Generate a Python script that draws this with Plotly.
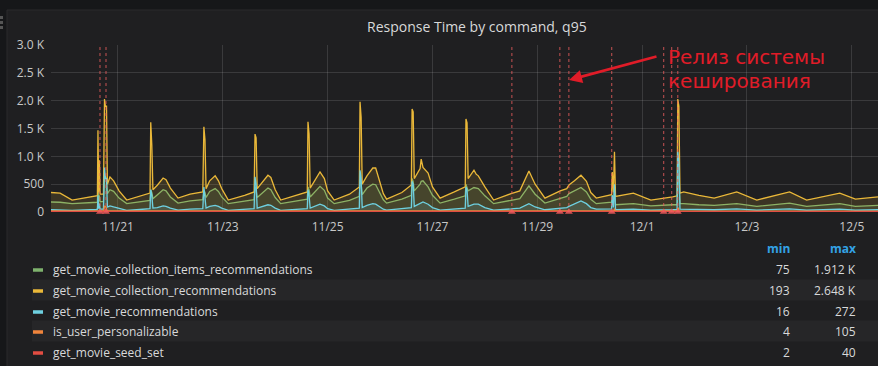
import plotly.graph_objects as go
import pandas as pd

# ---------------- data ----------------
series_names = [
    "get_movie_collection_items_recommendations",
    "get_movie_collection_recommendations",
    "get_movie_recommendations",
    "is_user_personalizable",
    "get_movie_seed_set",
]
series_colors = ["#7eb26d", "#eab839", "#6ed0e0", "#ef843c", "#e24d42"]
legend_min = ["75", "193", "16", "4", "2"]
legend_max = ["1.912 K", "2.648 K", "272", "105", "40"]

t_main = [
    # 11/19 - 11/20
    "2018-11-19 17:20", "2018-11-19 21:30", "2018-11-20 03:00", "2018-11-20 14:00", "2018-11-20 14:35",
    "2018-11-20 14:50", "2018-11-20 15:10", "2018-11-20 15:30", "2018-11-20 15:50", "2018-11-20 17:20",
    "2018-11-20 17:50", "2018-11-20 18:15", "2018-11-20 18:45", "2018-11-20 19:10", "2018-11-20 20:20",
    "2018-11-20 22:00", "2018-11-21 00:30",
    # 11/21
    "2018-11-21 04:00", "2018-11-21 10:00", "2018-11-21 14:40", "2018-11-21 15:00", "2018-11-21 15:30",
    "2018-11-21 16:00", "2018-11-21 18:00", "2018-11-21 20:40", "2018-11-21 22:00", "2018-11-22 00:00",
    # 11/22
    "2018-11-22 03:30", "2018-11-22 09:00", "2018-11-22 14:50", "2018-11-22 15:20", "2018-11-22 15:50",
    "2018-11-22 16:20", "2018-11-22 18:00", "2018-11-22 20:30", "2018-11-22 22:00", "2018-11-22 23:30",
    # 11/23
    "2018-11-23 02:30", "2018-11-23 10:00", "2018-11-23 14:20", "2018-11-23 14:45", "2018-11-23 15:15",
    "2018-11-23 15:45", "2018-11-23 18:30", "2018-11-23 20:40", "2018-11-23 22:00", "2018-11-24 00:00",
    # 11/24
    "2018-11-24 02:30", "2018-11-24 10:00", "2018-11-24 14:40", "2018-11-24 15:00", "2018-11-24 15:30",
    "2018-11-24 16:00", "2018-11-24 18:00", "2018-11-24 20:30", "2018-11-24 22:30", "2018-11-25 00:00",
    # 11/25
    "2018-11-25 03:00", "2018-11-25 10:00", "2018-11-25 14:30", "2018-11-25 14:50", "2018-11-25 15:20",
    "2018-11-25 15:50", "2018-11-25 18:00", "2018-11-25 20:40", "2018-11-25 22:00", "2018-11-26 00:00",
    "2018-11-26 01:30",
    # 11/26
    "2018-11-26 03:00", "2018-11-26 10:00", "2018-11-26 14:20", "2018-11-26 14:40", "2018-11-26 15:10",
    "2018-11-26 15:40", "2018-11-26 18:20", "2018-11-26 18:50", "2018-11-26 19:40", "2018-11-26 22:00",
    "2018-11-27 00:00",
    # 11/27
    "2018-11-27 03:30", "2018-11-27 10:00", "2018-11-27 15:00", "2018-11-27 15:20", "2018-11-27 15:50",
    "2018-11-27 16:20", "2018-11-27 19:00", "2018-11-27 20:00", "2018-11-27 21:00", "2018-11-28 00:00",
    # 11/28
    "2018-11-28 04:00", "2018-11-28 12:00", "2018-11-28 16:00", "2018-11-28 20:10", "2018-11-28 23:00",
    # 11/29
    "2018-11-29 03:30", "2018-11-29 10:30", "2018-11-29 13:30", "2018-11-29 14:30", "2018-11-29 17:00",
    "2018-11-29 20:00", "2018-11-29 22:30", "2018-11-30 00:30",
    # 11/30
    "2018-11-30 03:00", "2018-11-30 09:00", "2018-11-30 10:00", "2018-11-30 10:20", "2018-11-30 10:50",
    "2018-11-30 11:20", "2018-11-30 11:50", "2018-11-30 20:00",
    # 12/1
    "2018-12-01 04:00", "2018-12-01 14:00", "2018-12-01 16:00", "2018-12-01 16:20", "2018-12-01 16:50",
    "2018-12-01 17:20", "2018-12-01 19:00",
    # 12/2 - 12/5
    "2018-12-02 02:00", "2018-12-02 09:00", "2018-12-02 19:20", "2018-12-03 04:30", "2018-12-03 19:30",
    "2018-12-04 03:20", "2018-12-04 18:30", "2018-12-05 01:40", "2018-12-05 12:00",
]

v_collection = [  # yellow
    350, 340, 215, 290, 295, 1470, 350, 930, 320, 320, 2030, 1900, 1900, 500, 630, 560, 380,
    215, 280, 340, 1610, 1200, 400, 480, 610, 580, 430,
    250, 320, 360, 1530, 1300, 420, 560, 650, 560, 420,
    215, 300, 360, 1400, 1330, 420, 560, 660, 620, 400,
    215, 300, 360, 1620, 1400, 430, 550, 720, 600, 380,
    215, 320, 450, 1980, 1700, 500, 650, 790, 790, 520, 330,
    230, 350, 485, 1850, 1800, 600, 780, 950, 800, 700, 450,
    250, 360, 450, 1670, 1600, 600, 750, 680, 650, 450,
    215, 330, 380, 735, 500,
    250, 380, 420, 485, 560, 660, 550, 350,
    250, 300, 310, 720, 350, 1080, 280, 340,
    215, 270, 290, 2030, 1900, 340, 360,
    300, 250, 360, 215, 360, 215, 340, 230, 270,
]

v_items = [  # green
    180, 175, 150, 170, 175, 500, 190, 300, 185, 190, 700, 650, 600, 330, 400, 370, 250,
    150, 180, 210, 400, 350, 240, 310, 400, 380, 270,
    160, 200, 220, 400, 350, 260, 370, 420, 370, 270,
    150, 190, 220, 450, 400, 260, 360, 430, 400, 260,
    150, 200, 230, 450, 400, 270, 360, 460, 390, 250,
    150, 210, 280, 600, 500, 310, 430, 500, 490, 340, 220,
    160, 230, 300, 600, 550, 380, 500, 550, 560, 450, 300,
    160, 230, 290, 500, 450, 380, 440, 430, 420, 290,
    150, 210, 240, 470, 320,
    160, 250, 280, 330, 380, 440, 360, 230,
    150, 170, 175, 300, 180, 400, 130, 150,
    110, 130, 130, 700, 600, 150, 150,
    130, 120, 150, 100, 160, 100, 150, 100, 120,
]

v_movie = [  # blue
    40, 40, 30, 45, 50, 300, 60, 150, 50, 50, 800, 600, 600, 90, 110, 90, 60,
    30, 45, 60, 400, 300, 70, 80, 110, 100, 70,
    35, 50, 60, 450, 300, 70, 100, 120, 100, 70,
    30, 45, 60, 630, 500, 70, 100, 130, 120, 70,
    30, 45, 60, 400, 300, 70, 100, 140, 110, 60,
    30, 50, 70, 750, 600, 80, 120, 150, 140, 90, 50,
    35, 55, 80, 550, 500, 100, 150, 170, 180, 140, 80,
    35, 55, 70, 450, 400, 100, 140, 140, 140, 80,
    35, 55, 70, 150, 90,
    40, 60, 80, 100, 150, 200, 150, 80,
    50, 50, 55, 300, 80, 500, 40, 50,
    35, 40, 45, 1080, 900, 50, 50,
    45, 40, 55, 35, 55, 35, 50, 35, 40,
]

t_pers = ["2018-11-19 17:20", "2018-11-20 17:30", "2018-11-20 17:50", "2018-11-20 18:30",
          "2018-11-20 19:00", "2018-11-30 11:00", "2018-11-30 11:20", "2018-11-30 11:40",
          "2018-12-01 16:10", "2018-12-01 16:30", "2018-12-01 16:50", "2018-12-05 12:00"]
v_pers = [20, 20, 105, 90, 20, 20, 60, 20, 18, 80, 18, 15]

t_seed = ["2018-11-19 17:20", "2018-11-20 17:40", "2018-11-20 18:00", "2018-11-20 18:40",
          "2018-12-01 16:10", "2018-12-01 16:30", "2018-12-01 16:50", "2018-12-05 12:00"]
v_seed = [8, 8, 40, 8, 6, 30, 6, 6]

event_times = ["2018-11-20 15:46", "2018-11-20 18:31", "2018-11-28 12:22", "2018-11-29 10:20",
               "2018-11-29 14:28", "2018-11-30 10:05", "2018-12-01 09:53", "2018-12-01 13:33",
               "2018-12-01 16:20"]

x_tickvals = ["2018-11-21", "2018-11-23", "2018-11-25", "2018-11-27", "2018-11-29",
              "2018-12-01", "2018-12-03", "2018-12-05"]
x_ticktext = ["11/21", "11/23", "11/25", "11/27", "11/29", "12/1", "12/3", "12/5"]
y_tickvals = [0, 500, 1000, 1500, 2000, 2500, 3000]
y_ticktext = ["0", "500", "1.0 K", "1.5 K", "2.0 K", "2.5 K", "3.0 K"]

title_text = "Response Time by command, q95"
note_lines = ["Релиз системы", "кеширования"]

# ---------------- layout helpers ----------------
W, H = 878, 366
PL, PR, PT, PB = 51, 0, 45, 154


def px(x):
    return (x - PL) / (W - PL - PR)


def py(y):
    return (H - PB - y) / (H - PT - PB)


def rgba(hexc, a):
    hexc = hexc.lstrip("#")
    r, g, b = int(hexc[0:2], 16), int(hexc[2:4], 16), int(hexc[4:6], 16)
    return f"rgba({r},{g},{b},{a})"


fig = go.Figure()

series_data = [
    (t_main, v_items),
    (t_main, v_collection),
    (t_main, v_movie),
    (t_pers, v_pers),
    (t_seed, v_seed),
]
for (tt, vv), name, col in zip(series_data, series_names, series_colors):
    fig.add_trace(go.Scatter(
        x=pd.to_datetime(tt), y=vv, name=name, mode="lines",
        line=dict(color=col, width=1.3),
        fill="tozeroy", fillcolor=rgba(col, 0.14),
        showlegend=False, hoverinfo="skip",
    ))

# annotation event markers at bottom
fig.add_trace(go.Scatter(
    x=pd.to_datetime(event_times), y=[0] * len(event_times), mode="markers",
    marker=dict(symbol="triangle-up", size=7, color="rgba(240,90,90,0.85)"),
    showlegend=False, hoverinfo="skip", cliponaxis=False,
))

shapes = []
# outer panel
shapes.append(dict(type="rect", xref="paper", yref="paper", layer="below",
                   x0=px(7), x1=px(900), y0=py(10), y1=py(400),
                   fillcolor="#1f1f21", line=dict(color="#2a2a2c", width=1)))
# drag handle dots
for yy in (16, 21, 26):
    shapes.append(dict(type="rect", xref="paper", yref="paper", layer="below",
                       x0=px(0), x1=px(3), y0=py(yy), y1=py(yy + 3),
                       fillcolor="#555", line=dict(width=0)))
# event dashed lines
for et in event_times:
    shapes.append(dict(type="line", xref="x", yref="y", x0=et, x1=et, y0=0, y1=3000,
                       line=dict(color="rgba(240,95,95,0.8)", width=1, dash="dot")))

# legend table
row_y = [269, 290, 311, 331, 352]
for i, ry in enumerate(row_y):
    if i % 2 == 1:
        shapes.append(dict(type="rect", xref="paper", yref="paper", layer="below",
                           x0=px(32), x1=px(890), y0=py(ry - 10.5), y1=py(ry + 10.5),
                           fillcolor="#262628", line=dict(width=0)))
    shapes.append(dict(type="line", xref="paper", yref="paper",
                       x0=px(33), x1=px(43), y0=py(ry + 1), y1=py(ry + 1),
                       line=dict(color=series_colors[i], width=3.5)))

annotations = []
annotations.append(dict(text=title_text, xref="paper", yref="paper", x=px(477), y=py(26),
                        showarrow=False, xanchor="center", yanchor="middle",
                        font=dict(size=14, color="#d8d9da", family="Open Sans")))
for i, ry in enumerate(row_y):
    annotations.append(dict(text=series_names[i], xref="paper", yref="paper", x=px(51), y=py(ry),
                            showarrow=False, xanchor="left", yanchor="middle",
                            font=dict(size=12, color="#d8d9da", family="Open Sans")))
    annotations.append(dict(text=legend_min[i], xref="paper", yref="paper", x=px(792), y=py(ry),
                            showarrow=False, xanchor="right", yanchor="middle",
                            font=dict(size=12, color="#d8d9da", family="Open Sans")))
    annotations.append(dict(text=legend_max[i], xref="paper", yref="paper", x=px(858), y=py(ry),
                            showarrow=False, xanchor="right", yanchor="middle",
                            font=dict(size=12, color="#d8d9da", family="Open Sans")))
for txt, xr in (("min", 792), ("max", 858)):
    annotations.append(dict(text=f"<b>{txt}</b>", xref="paper", yref="paper", x=px(xr), y=py(248),
                            showarrow=False, xanchor="right", yanchor="middle",
                            font=dict(size=12, color="#33a2e5", family="Open Sans")))

# red note with arrow
for txt, ly in zip(note_lines, (57, 81)):
    annotations.append(dict(text=txt, xref="paper", yref="paper", x=px(666), y=py(ly),
                            showarrow=False, xanchor="left", yanchor="middle",
                            font=dict(size=20, color="#e01c28", family="DejaVu Sans")))
annotations.append(dict(text="", xref="paper", yref="paper", x=px(569), y=py(80),
                        ax=89, ay=-24, axref="pixel", ayref="pixel",
                        showarrow=True, arrowhead=2, arrowsize=1, arrowwidth=2.6,
                        arrowcolor="#e01c28"))

fig.update_layout(
    width=W, height=H,
    margin=dict(l=PL, r=PR, t=PT, b=PB),
    paper_bgcolor="#161719",
    plot_bgcolor="rgba(0,0,0,0)",
    shapes=shapes,
    annotations=annotations,
    font=dict(family="Open Sans", color="#c8c8c8", size=12),
    xaxis=dict(
        type="date",
        range=["2018-11-19 17:20", "2018-12-05 12:00"],
        tickvals=x_tickvals, ticktext=x_ticktext,
        showgrid=True, gridcolor="rgba(255,255,255,0.12)", gridwidth=1,
        zeroline=False, showline=False, ticks="",
        ticklabelstandoff=6,
        tickfont=dict(size=12, color="#c8c8c8"),
    ),
    yaxis=dict(
        range=[0, 3000],
        tickvals=y_tickvals, ticktext=y_ticktext,
        showgrid=True, gridcolor="rgba(255,255,255,0.12)", gridwidth=1,
        zeroline=False, showline=False, ticks="",
        ticklabelstandoff=6,
        tickfont=dict(size=12, color="#c8c8c8"),
    ),
)

fig.write_html("out.html")
